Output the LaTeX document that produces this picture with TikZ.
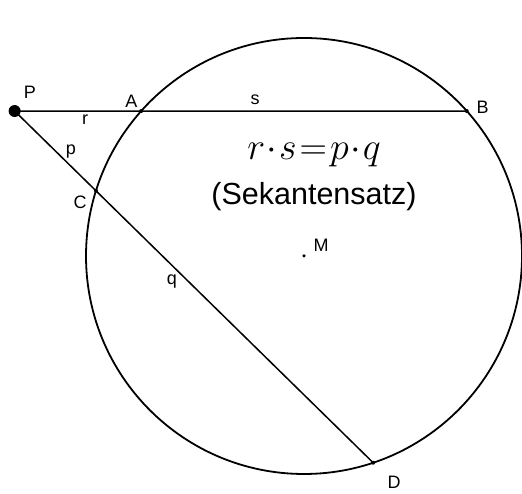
\RequirePackage{fix-cm}
\documentclass[tikz,border=0pt]{standalone}
\usepackage{fontspec}
\setmainfont{Liberation Sans}
\usetikzlibrary{positioning, calc}
\tikzset{
    font=\fontsize{18}{20}\selectfont,
    circleline/.style={draw=black, line width=1.8pt},
    secant/.style={draw=black, line width=1.5pt},
    ptdot/.style={circle, fill=black, inner sep=0pt, minimum size=4pt},
    bigdot/.style={circle, fill=black, inner sep=0pt, minimum size=12pt},
    ptlabel/.style={inner sep=0pt},
    formula/.style={inner sep=0pt, font=\fontsize{38}{40}\selectfont},
    caption/.style={inner sep=0pt, font=\fontsize{30.5}{33}\selectfont}
}

\begin{document}
\begin{tikzpicture}[x=1pt, y=1pt]

    \useasboundingbox (0,0) rectangle (522,494);

    % circle and the four points on it
    \coordinate (M) at (304,238);
    \coordinate (A) at ($(M)+(138.31:218)$);
    \coordinate (B) at ($(M)+(41.69:218)$);
    \coordinate (C) at ($(M)+(162.6:218)$);
    \coordinate (D) at ($(M)+(-71.5:218)$);
    \coordinate (P) at (intersection of A--B and C--D);

    \draw [circleline] (M) circle [radius=218];
    \draw [secant] (P) -- (B);
    \draw [secant] (P) -- (D);

    \node (dotP) [bigdot] at (P) {};
    \node (dotA) [ptdot] at (A) {};
    \node (dotB) [ptdot] at (B) {};
    \node (dotC) [ptdot] at (C) {};
    \node (dotD) [ptdot] at (D) {};
    \node (dotM) [ptdot, minimum size=3.5pt] at (M) {};

    % labels
    \node (labP) [ptlabel] at (30,401.5) {P};
    \node (labA) [ptlabel] at (131.5,393) {A};
    \node (labB) [ptlabel] at (482.5,387) {B};
    \node (labC) [ptlabel] at (80,292) {C};
    \node (labD) [ptlabel] at (394,12) {D};
    \node (labM) [ptlabel] at (321,249) {M};
    \node (labr) [ptlabel] at (85,374) {r};
    \node (labs) [ptlabel] at (255,394) {s};
    \node (labp) [ptlabel] at (71,342) {p};
    \node (labq) [ptlabel] at (172,212) {q};

    \node (rule) [formula] at (314,339.5)
        {$\medmuskip=0.8mu \thickmuskip=1.5mu r\cdot s=p\cdot q$};
    \node (name) [caption, below=15pt of rule] {(Sekantensatz)};

\end{tikzpicture}
\end{document}
